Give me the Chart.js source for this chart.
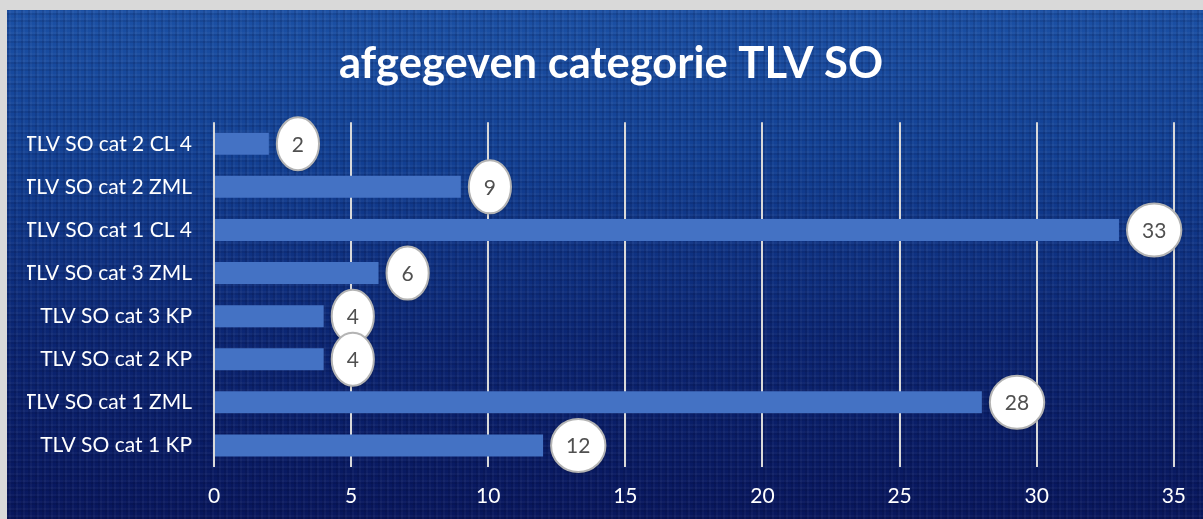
<!DOCTYPE html>
<html>
<head>
<meta charset="utf-8">
<script src="https://cdn.jsdelivr.net/npm/chart.js@4/dist/chart.umd.min.js"></script>
<style>
  html, body { margin: 0; padding: 0; background: #d9d9d9; }
  #wrap {
    position: absolute; left: 7px; top: 10px; width: 1196px; height: 509px;
    background:
      repeating-linear-gradient(90deg, rgba(0,0,30,0.10) 0 2px, rgba(255,255,255,0.03) 2px 4px, rgba(0,0,0,0) 4px 7px),
      repeating-linear-gradient(0deg, rgba(0,0,30,0.10) 0 2px, rgba(255,255,255,0.03) 2px 4px, rgba(0,0,0,0) 4px 7px),
      linear-gradient(to bottom, #1b50a4 0%, #123f92 30%, #0b2572 65%, #08165c 100%);
  }
</style>
</head>
<body>
<div id="wrap"><canvas id="c" width="1196" height="509"></canvas></div>
<script>
const categories = [
  "TLV SO cat 2 CL 4",
  "TLV SO cat 2 ZML",
  "TLV SO cat 1 CL 4",
  "TLV SO cat 3 ZML",
  "TLV SO cat 3 KP",
  "TLV SO cat 2 KP",
  "TLV SO cat 1 ZML",
  "TLV SO cat 1 KP"
];
const counts = [2, 9, 33, 6, 4, 4, 28, 12];
const xTicks = [0, 5, 10, 15, 20, 25, 30, 35];

const FONT = "Lato, 'Open Sans', sans-serif";

// white ellipse labels at the end of each bar
const bubbleLabels = {
  id: "bubbleLabels",
  afterDatasetsDraw(chart) {
    const ctx = chart.ctx;
    const meta = chart.getDatasetMeta(0);
    ctx.save();
    ctx.font = "21px " + FONT;
    meta.data.forEach((bar, i) => {
      const txt = String(chart.data.datasets[0].data[i]);
      const w = ctx.measureText(txt).width + 30;
      const rx = w / 2, ry = 26.5;
      const cx = bar.x + 8 + rx, cy = bar.y;
      ctx.shadowColor = "rgba(0,0,0,0.35)";
      ctx.shadowBlur = 3;
      ctx.shadowOffsetY = 1;
      ctx.beginPath();
      ctx.ellipse(cx, cy, rx, ry, 0, 0, Math.PI * 2);
      ctx.fillStyle = "#ffffff";
      ctx.fill();
      ctx.shadowColor = "transparent";
      ctx.lineWidth = 2;
      ctx.strokeStyle = "#b4b4b4";
      ctx.stroke();
      ctx.fillStyle = "#505050";
      ctx.textAlign = "center";
      ctx.textBaseline = "middle";
      ctx.fillText(txt, cx, cy + 1);
    });
    ctx.restore();
  }
};

new Chart(document.getElementById("c"), {
  type: "bar",
  data: {
    labels: categories,
    datasets: [{
      data: counts,
      backgroundColor: "#4472c4",
      borderWidth: 0,
      barPercentage: 0.51,
      categoryPercentage: 1
    }]
  },
  plugins: [bubbleLabels],
  options: {
    indexAxis: "y",
    responsive: false,
    animation: false,
    layout: { padding: { top: 0, right: 8, bottom: 0, left: 20 } },
    plugins: {
      legend: { display: false },
      tooltip: { enabled: false },
      title: {
        display: true,
        text: "afgegeven categorie TLV SO",
        color: "#ffffff",
        font: { family: FONT, size: 43.5, weight: "bold", lineHeight: 1.2 },
        padding: { top: 28, bottom: 32 }
      }
    },
    scales: {
      x: {
        min: 0,
        max: 35,
        afterBuildTicks: (axis) => { axis.ticks = xTicks.map(v => ({ value: v })); },
        afterFit: (axis) => { axis.height = 52; },
        grid: { color: "#d9d9d9", lineWidth: 2, drawTicks: false },
        border: { display: false },
        ticks: { color: "#ffffff", font: { family: FONT, size: 21 }, padding: 17 }
      },
      y: {
        afterFit: (axis) => { axis.width = 187; },
        grid: { display: false, drawTicks: false },
        border: { display: false },
        ticks: { color: "#ffffff", font: { family: FONT, size: 21 }, padding: 22 }
      }
    }
  }
});
</script>
</body>
</html>
